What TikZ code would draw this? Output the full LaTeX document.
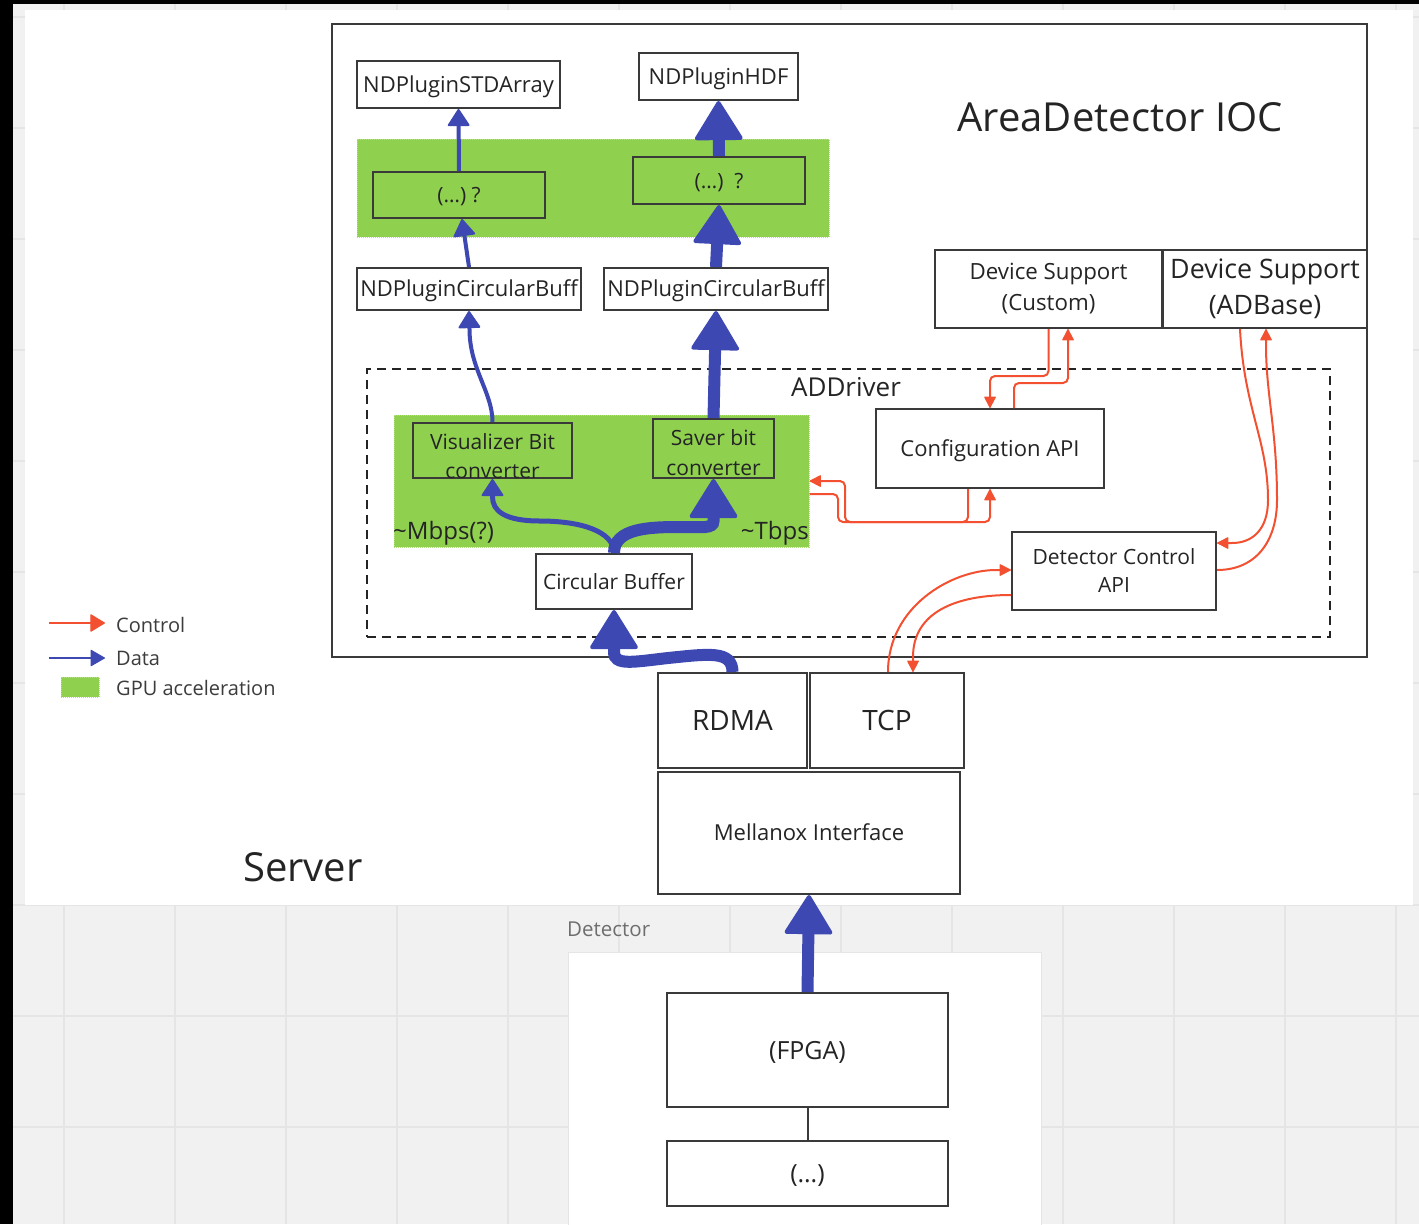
\documentclass[tikz,border=0pt]{standalone}
\usepackage{fontspec}
\setmainfont{Open Sans}
\usetikzlibrary{arrows.meta,calc}
\definecolor{dblue}{RGB}{62,72,178}
\definecolor{cred}{RGB}{242,80,48}
\definecolor{ggreen}{RGB}{143,209,79}
\definecolor{ggreenb}{RGB}{175,225,125}
\definecolor{bgrey}{RGB}{241,241,241}
\definecolor{gridg}{RGB}{229,229,229}
\definecolor{edge}{RGB}{58,58,58}
\definecolor{txt}{RGB}{36,36,36}
\definecolor{legtxt}{RGB}{60,60,60}
\definecolor{dettxt}{RGB}{110,110,110}
\newcommand{\fsz}[2]{\fontsize{#1}{#2}\selectfont}
\begin{document}
\begin{tikzpicture}[x=1pt,y=-1pt,
  box/.style={draw=edge,line width=2pt,fill=white,inner sep=0pt,text=txt,align=center},
  one/.style={font=\fsz{#1}{#1},text height={0.72*#1pt},text depth=0pt},
  gbox/.style={draw=edge,line width=2pt,inner sep=0pt,text=txt,align=center},
  region/.style={fill=ggreen,draw=ggreenb,densely dotted,line width=1pt,inner sep=0pt},
  lbl/.style={text=txt,inner sep=0pt},
  dthin/.style={draw=dblue,line width=4pt,-{Triangle[length=18pt,width=23pt,round,line width=2pt]}},
  dthick/.style={draw=dblue,line width=12pt,-{Triangle[length=41pt,width=50pt,round,line width=4pt]}},
  ctrl/.style={draw=cred,line width=2pt,-{Triangle[length=12pt,width=12pt,round,line width=1pt]}},
]
\useasboundingbox (0,0) rectangle (1419,1224);
% background
\fill[black] (0,0) rectangle (1419,1224);
\fill[bgrey] (13,4) rectangle (1419,1224);
\foreach \gx in {64,175,286,397,508,619,730,841,952,1063,1174,1285,1396}
  \draw[gridg,line width=1.5pt] (\gx,4) -- (\gx,1224);
\foreach \gy in {17,128,239,350,461,572,683,794,905,1016,1127}
  \draw[gridg,line width=1.5pt] (13,\gy) -- (1419,\gy);
% server and detector areas
\fill[white] (25,10) rectangle (1413,905);
\filldraw[fill=white,draw=gridg,line width=1pt] (568,952) rectangle (1041,1226);

% IOC
\node[draw=edge,line width=2.5pt,minimum width=1035,minimum height=633,inner sep=0pt] (ioc) at (849.5,340.5) {};
\node[lbl,font=\fsz{40}{48}] (iocl) at (1120,117) {AreaDetector IOC};

% GPU regions
\node[region,minimum width=472,minimum height=98] (gpu1) at (593,188) {};
\node[region,minimum width=415,minimum height=132] (gpu2) at (601.5,481) {};

% ADDriver
\node[draw=txt,dash pattern=on 9pt off 6pt,line width=2pt,minimum width=963,minimum height=268,inner sep=0pt] (addrv) at (848.5,503) {};
\node[lbl,font=\fsz{26}{30}] (addrvl) at (846,387) {ADDriver};

% top plugins
\node[box,one=22,minimum width=203,minimum height=47] (std) at (458.5,84.5) {NDPluginSTDArray};
\node[box,one=22,minimum width=159,minimum height=47] (hdf) at (718.5,76.5) {NDPluginHDF};
\node[gbox,one=21,minimum width=172,minimum height=46] (qL) at (459,195) {(…) ?};
\node[gbox,one=21,minimum width=172,minimum height=47] (qR) at (719,180.5) {(…)~~?};
\node[box,one=22,minimum width=224,minimum height=42] (ndcbL) at (469,289) {\makebox[0pt]{NDPluginCircularBuff}};
\node[box,one=22,minimum width=224,minimum height=42] (ndcbR) at (716,289) {\makebox[0pt]{NDPluginCircularBuff}};

% device support
\node[box,font=\fsz{22.3}{31},minimum width=227,minimum height=78] (dsC) at (1048.5,289) {Device Support\\(Custom)};
\node[box,font=\fsz{26.8}{36},minimum width=204,minimum height=78] (adb) at (1265,289) {Device Support\\(ADBase)};

% ADDriver internals
\node[gbox,minimum width=159,minimum height=55] (vis) at (492.5,450.5) {};
\node[lbl,font=\fsz{21}{29},align=center] (visl) at (492.5,456) {Visualizer Bit\\converter};
\node[gbox,minimum width=121,minimum height=59] (saver) at (713.5,448.5) {};
\node[lbl,font=\fsz{21}{30},align=center] (saverl) at (713.5,453) {Saver bit\\converter};
\node[lbl,font=\fsz{24}{28},anchor=west] (mbps) at (393,533) {\textasciitilde Mbps(?)};
\node[lbl,font=\fsz{24}{28},anchor=east] (tbps) at (809,533) {\textasciitilde Tbps};
\node[box,one=21,minimum width=156,minimum height=55] (cb) at (614,581.5) {Circular Buffer};
\node[box,one=22,minimum width=228,minimum height=79] (cfg) at (990,448.5) {Configuration API};
\node[box,font=\fsz{21}{28},minimum width=204,minimum height=78] (dc) at (1114,571) {Detector Control\\API};

% network
\node[box,one=28,minimum width=149,minimum height=95] (rdma) at (732.5,720.5) {RDMA};
\node[box,one=28,minimum width=154,minimum height=95] (tcp) at (887,720.5) {TCP};
\node[box,one=22,minimum width=302,minimum height=122] (mell) at (809,833) {Mellanox Interface};
\node[lbl,font=\fsz{40}{48}] (server) at (303,867) {Server};

% detector
\node[lbl,font=\fsz{20.5}{24},anchor=west,text=dettxt] (detl) at (567,929) {Detector};
\node[box,one=25,minimum width=281,minimum height=114] (fpga) at (807.5,1050) {(FPGA)};
\node[box,one=25,minimum width=281,minimum height=65] (dots) at (807.5,1173.5) {(…)};
\draw[edge,line width=2pt] (fpga.south) -- (dots.north);

% legend
\coordinate (lc1) at (49,623); \coordinate (lc2) at (105,623);
\coordinate (ld1) at (49,658); \coordinate (ld2) at (105,658);
\draw[draw=cred,line width=2.5pt,-{Triangle[length=15pt,width=18pt,round,line width=1pt]}] (lc1) -- (lc2);
\draw[draw=dblue,line width=2pt,-{Triangle[length=15pt,width=17pt,round,line width=1pt]}] (ld1) -- (ld2);
\node[region,minimum width=38,minimum height=20] (lg) at (80,687) {};
\node[lbl,font=\fsz{20}{24},anchor=west,text=legtxt] (lct) at (116,625) {Control};
\node[lbl,font=\fsz{20}{24},anchor=west,text=legtxt] (ldt) at (116,658) {Data};
\node[lbl,font=\fsz{20}{24},anchor=west,text=legtxt] (lgt) at (116,688) {GPU acceleration};

% data arrows
\draw[dthick] (fpga.north) -- (mell.south);
\draw[dthick] (rdma.north) .. controls +(0,-22) and +(40,-4) .. (668,658) .. controls +(-35,4) and +(0,14) .. (614,652) -- (cb.south);
\draw[dthin,line width=5pt] (cb.north) .. controls +(0,-22) and +(40,0) .. (540,521) .. controls +(-35,0) and +(0,14) .. (492.5,497) -- (vis.south);
\draw[dthick] (cb.north) .. controls +(0,-25) and +(-30,0) .. (680,527) .. controls +(22,0) and +(0,8) .. (713.5,521) -- (saver.south);
\draw[dthin] (vis.north) .. controls +(0,-30) and +(0,40) .. (469.5,329) -- (ndcbL.south);
\draw[dthick] (saver.north) -- (ndcbR.south);
\draw[dthin] (ndcbL.north) -- ($(qL.south)+(3,0)$);
\draw[dthin] (qL.north) -- (std.south);
\draw[dthick] (ndcbR.north) -- (qR.south);
\draw[dthick] (qR.north) -- (hdf.south);

% control arrows
\draw[ctrl,rounded corners=5pt] (dsC.south) -- (1048.5,376) -- (990,376) -- (cfg.north);
\draw[ctrl,rounded corners=5pt] ($(cfg.north)+(24,0)$) -- (1014,383) -- (1068,383) -- ($(dsC.south)+(19.5,0)$);
\draw[ctrl,rounded corners=5pt] ($(cfg.south)+(-22,0)$) -- (968,522) -- (845,522) -- (845,481) -- (gpu2.east);
\draw[ctrl,rounded corners=5pt] ($(gpu2.east)+(0,13)$) -- (838,494) -- (838,522) -- (990,522) -- (cfg.south);
\draw[ctrl] ($(adb.south)+(-25,0)$) .. controls +(4,80) and +(0,-60) .. (1268,500) .. controls +(0,30) and +(20,0) .. (1232,543) -- ($(dc.east)+(0,-28)$);
\draw[ctrl] ($(dc.east)+(0,-1)$) .. controls +(40,0) and +(0,40) .. (1277,500) .. controls +(0,-70) and +(0,50) .. (1266,345) -- ($(adb.south)+(1,0)$);
\draw[ctrl] ($(tcp.north)+(1,0)$) .. controls +(0,-65) and +(-45,0) .. ($(dc.west)+(-15,-1)$) -- ($(dc.west)+(0,-1)$);
\draw[ctrl] ($(dc.west)+(0,24)$) .. controls +(-55,0) and +(0,-45) .. ($(tcp.north)+(26,-15)$) -- ($(tcp.north)+(26,0)$);
\end{tikzpicture}
\end{document}
